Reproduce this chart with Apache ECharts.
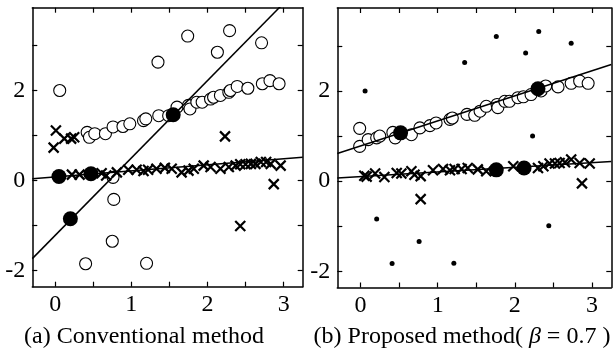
<!DOCTYPE html>
<html>
<head>
<meta charset="utf-8">
<script src="https://cdn.jsdelivr.net/npm/echarts@6/dist/echarts.min.js"></script>
<style>
html, body { margin: 0; padding: 0; background: #fff; }
#main { width: 613px; height: 352px; }
</style>
</head>
<body>
<div id="main"></div>
<script>
// (a) conventional method
var aCircles = [
    [0.42, 1.07], [0.45, 0.96], [0.52, 1.04], [0.66, 1.04], [0.76, 1.19], [0.89, 1.20], [0.98, 1.26],
    [1.16, 1.33], [1.19, 1.37], [1.36, 1.44], [1.49, 1.44], [1.60, 1.63], [1.75, 1.67], [1.77, 1.59],
    [1.86, 1.74], [1.93, 1.74], [2.04, 1.81], [2.08, 1.85], [2.17, 1.89], [2.28, 1.96], [2.30, 2.00],
    [2.39, 2.09], [2.53, 2.05], [2.72, 2.15], [2.82, 2.22], [2.94, 2.15],
    [0.06, 2.00], [1.35, 2.63], [1.74, 3.21], [2.13, 2.85], [2.29, 3.33], [2.71, 3.06],
    [0.76, 0.07], [0.77, -0.42], [0.75, -1.35], [0.40, -1.85], [1.20, -1.84]
];
var aCrosses = [
    [0.01, 1.11], [-0.02, 0.73], [0.12, 0.93], [0.21, 0.93], [0.25, 0.96], [2.23, 0.98],
    [0.22, 0.13], [0.32, 0.13], [0.61, 0.16], [0.67, 0.11], [0.81, 0.18], [0.96, 0.24], [1.07, 0.24],
    [1.16, 0.21], [1.22, 0.24], [1.33, 0.26], [1.44, 0.28], [1.53, 0.26], [1.66, 0.18], [1.75, 0.22],
    [1.82, 0.26], [1.95, 0.33], [2.04, 0.30], [2.17, 0.26], [2.28, 0.30], [2.37, 0.33], [2.43, 0.36],
    [2.50, 0.36], [2.57, 0.37], [2.63, 0.37], [2.70, 0.41], [2.77, 0.41], [2.83, 0.37], [2.96, 0.33],
    [2.87, -0.08], [2.43, -1.01]
];
var aFilled = [[0.05, 0.09], [0.47, 0.15], [0.20, -0.85], [1.55, 1.46]];
var aLines = [[1.72, -1.22], [0.135, 0.08]]; // slope, intercept

// (b) proposed method
var bCircles = [
    [-0.01, 1.17], [-0.01, 0.77], [0.10, 0.92], [0.21, 0.96], [0.25, 1.00], [0.42, 1.08], [0.45, 0.96],
    [0.66, 1.03], [0.77, 1.18], [0.90, 1.23], [0.98, 1.29], [1.16, 1.37], [1.19, 1.40], [1.38, 1.48],
    [1.48, 1.46], [1.55, 1.55], [1.63, 1.66], [1.77, 1.70], [1.78, 1.63], [1.87, 1.77], [1.93, 1.77],
    [2.04, 1.85], [2.11, 1.87], [2.21, 1.92], [2.34, 2.00], [2.40, 2.11], [2.56, 2.09], [2.73, 2.17],
    [2.84, 2.22], [2.95, 2.17]
];
var bCrosses = [
    [0.05, 0.12], [0.08, 0.10], [0.19, 0.17], [0.31, 0.09], [0.47, 0.18], [0.53, 0.17], [0.66, 0.22],
    [0.70, 0.14], [0.78, 0.11], [0.94, 0.24], [1.07, 0.27], [1.16, 0.24], [1.22, 0.27], [1.31, 0.27],
    [1.39, 0.29], [1.52, 0.26], [1.63, 0.22], [1.98, 0.33], [2.30, 0.29], [2.37, 0.33], [2.45, 0.39],
    [2.52, 0.39], [2.58, 0.40], [2.65, 0.42], [2.73, 0.48], [2.84, 0.40], [2.97, 0.39],
    [0.78, -0.40], [2.87, -0.05]
];
var bFilled = [[0.52, 1.07], [2.30, 2.05], [1.76, 0.25], [2.12, 0.29]];
var bDots = [
    [0.06, 2.00], [1.35, 2.63], [1.76, 3.21], [2.14, 2.84], [2.31, 3.32], [2.73, 3.06], [2.23, 1.00],
    [0.21, -0.84], [0.76, -1.34], [0.41, -1.83], [1.21, -1.82], [2.44, -0.99]
];
var bLines = [[0.556, 0.78], [0.103, 0.10]];

var xTicks = [0, 0.5, 1, 1.5, 2, 2.5, 3];
var xLabels = [0, 1, 2, 3];
var yTicks = [-2, -1, 0, 1, 2, 3];
var yLabels = [-2, 0, 2];
var captions = ['(a) Conventional method', '(b) Proposed method( {b|β} = 0.7 )'];

var XMIN = -0.3, XMAX = 3.25, YMIN = -2.36, YMAX = 3.84;
var font = 'Liberation Serif';

function lineData(p) {
    return [[XMIN, p[1] + p[0] * XMIN], [XMAX, p[1] + p[0] * XMAX]];
}

function makeX(gi, pos, label) {
    return {
        type: 'value', gridIndex: gi, position: pos, min: XMIN, max: XMAX,
        axisLine: { show: true, onZero: false, lineStyle: { color: '#000', width: 1.5 } },
        axisTick: { show: true, inside: true, length: 5, customValues: xTicks, lineStyle: { color: '#000', width: 1.2 } },
        axisLabel: { show: label, customValues: xLabels, color: '#000', fontSize: 24, fontFamily: font, margin: 6 },
        splitLine: { show: false }
    };
}
function makeY(gi, pos, label) {
    return {
        type: 'value', gridIndex: gi, position: pos, min: YMIN, max: YMAX,
        axisLine: { show: true, onZero: false, lineStyle: { color: '#000', width: 1.5 } },
        axisTick: { show: true, inside: true, length: 5, customValues: yTicks, lineStyle: { color: '#000', width: 1.2 } },
        axisLabel: { show: label, customValues: yLabels, color: '#000', fontSize: 24, fontFamily: font, margin: 7 },
        splitLine: { show: false }
    };
}

var crossPath = 'path://M0,0L10,10M10,0L0,10';

function panelSeries(gi, circles, crosses, filled, dots, lines) {
    var s = [];
    s.push({ type: 'scatter', xAxisIndex: gi, yAxisIndex: gi, data: circles, symbol: 'circle', symbolSize: 12,
        itemStyle: { color: '#fff', borderColor: '#000', borderWidth: 1.1, opacity: 1 }, z: 2 });
    s.push({ type: 'scatter', xAxisIndex: gi, yAxisIndex: gi, data: crosses, symbol: crossPath, symbolSize: 10,
        itemStyle: { color: 'transparent', borderColor: '#000', borderWidth: 2.2, opacity: 1 }, z: 3 });
    for (var i = 0; i < lines.length; i++) {
        s.push({ type: 'line', xAxisIndex: gi, yAxisIndex: gi, data: lineData(lines[i]), showSymbol: false,
            symbol: 'none', lineStyle: { color: '#000', width: 1.5 }, clip: true, z: 4 });
    }
    s.push({ type: 'scatter', xAxisIndex: gi, yAxisIndex: gi, data: filled, symbol: 'circle', symbolSize: 15,
        itemStyle: { color: '#000', opacity: 1 }, z: 5 });
    if (dots) {
        s.push({ type: 'scatter', xAxisIndex: gi, yAxisIndex: gi, data: dots, symbol: 'circle', symbolSize: 5,
            itemStyle: { color: '#000', opacity: 1 }, z: 5 });
    }
    return s;
}

var app = echarts.init(document.getElementById('main'));
var option = {
    animation: false,
    backgroundColor: '#fff',
    grid: [
        { left: 32.3, top: 7.7, width: 270.4, height: 279 },
        { left: 337.3, top: 8, width: 274, height: 279.5 }
    ],
    xAxis: [makeX(0, 'bottom', true), makeX(1, 'bottom', true), makeX(0, 'top', false), makeX(1, 'top', false)],
    yAxis: [makeY(0, 'left', true), makeY(1, 'left', true), makeY(0, 'right', false), makeY(1, 'right', false)],
    series: panelSeries(0, aCircles, aCrosses, aFilled, null, aLines)
        .concat(panelSeries(1, bCircles, bCrosses, bFilled, bDots, bLines)),
    graphic: [
        { type: 'text', x: 144, y: 337, style: { text: captions[0], align: 'center', verticalAlign: 'middle',
            font: '24px "Liberation Serif"', fill: '#000' } },
        { type: 'text', x: 462, y: 337, style: { text: captions[1], align: 'center', verticalAlign: 'middle',
            font: '24px "Liberation Serif"', fill: '#000',
            rich: { b: { fontStyle: 'italic', fontFamily: 'Liberation Serif', fontSize: 24 } } } }
    ]
};
app.setOption(option);
</script>
</body>
</html>
